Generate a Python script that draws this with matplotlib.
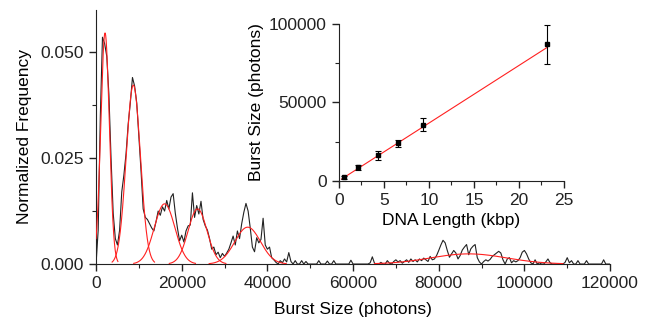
import numpy as np
import matplotlib
matplotlib.use("Agg")
import matplotlib.pyplot as plt
from matplotlib.ticker import MultipleLocator, FormatStrFormatter

plt.rcParams['font.family'] = ['Liberation Sans', 'DejaVu Sans']
plt.rcParams['font.size'] = 12.5

# ===================== 数据 =====================
# 直方图：每 500 photons 一个点，0 ~ 120000
bin_width = 500
hist_y = [
    0.0000, 0.0080, 0.0350, 0.0535, 0.0520, 0.0490, 0.0400, 0.0250, 0.0120, 0.0060,
    0.0045, 0.0080, 0.0170, 0.0210, 0.0260, 0.0330, 0.0380, 0.0440, 0.0420, 0.0380,
    0.0300, 0.0220, 0.0130, 0.0110, 0.0105, 0.0095, 0.0085, 0.0078, 0.0100, 0.0125,
    0.0115, 0.0135, 0.0125, 0.0150, 0.0130, 0.0158, 0.0166, 0.0120, 0.0085, 0.0055,
    0.0068, 0.0052, 0.0078, 0.0090, 0.0092, 0.0168, 0.0110, 0.0138, 0.0118, 0.0148,
    0.0105, 0.0090, 0.0080, 0.0060, 0.0035, 0.0040, 0.0022, 0.0028, 0.0015, 0.0025,
    0.0018, 0.0026, 0.0035, 0.0050, 0.0066, 0.0045, 0.0078, 0.0060, 0.0095, 0.0122,
    0.0143, 0.0125, 0.0085, 0.0040, 0.0029, 0.0062, 0.0050, 0.0058, 0.0108, 0.0045,
    0.0035, 0.0040, 0.0015, 0.0010, 0.0004, 0.0000, 0.0008, 0.0003, 0.0012, 0.0005,
    0.0027, 0.0006, 0.0000, 0.0008, 0.0000, 0.0000, 0.0008, 0.0000, 0.0006, 0.0000,
    0.0000, 0.0000, 0.0000, 0.0000, 0.0008, 0.0000, 0.0000, 0.0000, 0.0007, 0.0000,
    0.0000, 0.0008, 0.0000, 0.0000, 0.0000, 0.0000, 0.0000, 0.0000, 0.0000, 0.0009,
    0.0000, 0.0000, 0.0000, 0.0000, 0.0000, 0.0000, 0.0000, 0.0000, 0.0003, 0.0017,
    0.0002, 0.0000, 0.0000, 0.0004, 0.0000, 0.0000, 0.0008, 0.0002, 0.0000, 0.0006,
    0.0010, 0.0005, 0.0008, 0.0002, 0.0006, 0.0010, 0.0004, 0.0012, 0.0006, 0.0010,
    0.0005, 0.0012, 0.0008, 0.0014, 0.0010, 0.0006, 0.0018, 0.0010, 0.0012, 0.0020,
    0.0032, 0.0045, 0.0056, 0.0050, 0.0032, 0.0016, 0.0024, 0.0032, 0.0026, 0.0012,
    0.0020, 0.0033, 0.0040, 0.0046, 0.0022, 0.0036, 0.0042, 0.0046, 0.0015, 0.0005,
    0.0000, 0.0006, 0.0010, 0.0007, 0.0011, 0.0018, 0.0022, 0.0026, 0.0030, 0.0026,
    0.0010, 0.0000, 0.0012, 0.0015, 0.0003, 0.0008, 0.0005, 0.0008, 0.0015, 0.0028,
    0.0032, 0.0024, 0.0012, 0.0003, 0.0000, 0.0010, 0.0000, 0.0003, 0.0000, 0.0000,
    0.0005, 0.0012, 0.0003, 0.0000, 0.0000, 0.0000, 0.0000, 0.0000, 0.0000, 0.0004,
    0.0015, 0.0003, 0.0008, 0.0000, 0.0000, 0.0008, 0.0000, 0.0000, 0.0000, 0.0008,
    0.0000, 0.0000, 0.0000, 0.0000, 0.0000, 0.0000, 0.0000, 0.0010, 0.0000, 0.0000,
    0.0000,
]
hist_x = np.arange(len(hist_y)) * bin_width

# 高斯拟合分量：中心、幅值、宽度
peak_centers = [2100, 8700, 16000, 23700, 35400, 87000]
peak_amps = [0.0545, 0.0422, 0.0142, 0.0130, 0.0087, 0.0024]
peak_sigmas = [1000, 1650, 2400, 2200, 3000, 8800]
peak_span = [3.0, 3.0, 3.0, 3.0, 3.0, 2.5]  # 绘制范围 (sigma 的倍数)

# 插图：DNA 长度 vs 平均 burst size
dna_len = [0.6, 2.1, 4.4, 6.6, 9.4, 23.1]
burst_mean = [2300, 8700, 16400, 24000, 35700, 87000]
burst_err = [1000, 1700, 2800, 2300, 4200, 12500]
fit_slope = 3670
fit_intercept = 100

# ===================== 作图 =====================
fig = plt.figure(figsize=(6.49, 3.22), dpi=100)
ax = fig.add_axes([0.148, 0.180, 0.792, 0.790])

ax.plot(hist_x, hist_y, color='#222222', lw=0.8, zorder=2)
for c, a, s, n in zip(peak_centers, peak_amps, peak_sigmas, peak_span):
    xs = np.linspace(max(c - n * s, 0), c + n * s, 200)
    ax.plot(xs, a * np.exp(-0.5 * ((xs - c) / s) ** 2), color='#ff2020', lw=0.8, zorder=3)

ax.set_xlim(0, 120000)
ax.set_ylim(0, 0.06)
ax.xaxis.set_major_locator(MultipleLocator(20000))
ax.xaxis.set_minor_locator(MultipleLocator(10000))
ax.yaxis.set_major_locator(MultipleLocator(0.025))
ax.yaxis.set_minor_locator(MultipleLocator(0.0125))
ax.yaxis.set_major_formatter(FormatStrFormatter('%.3f'))
ax.set_xlabel('Burst Size (photons)', labelpad=8)
ax.set_ylabel('Normalized Frequency', labelpad=6)

# 插图
ins = fig.add_axes([0.522, 0.438, 0.347, 0.488])
xf = np.array([0.3, dna_len[-1]])
ins.plot(xf, fit_slope * xf + fit_intercept, color='#ff2020', lw=0.8)
ins.errorbar(dna_len, burst_mean, yerr=burst_err, fmt='s', color='black',
             ms=3, elinewidth=0.8, capsize=2, capthick=0.8)
ins.set_xlim(0, 25)
ins.set_ylim(0, 100000)
ins.xaxis.set_major_locator(MultipleLocator(5))
ins.xaxis.set_minor_locator(MultipleLocator(2.5))
ins.yaxis.set_major_locator(MultipleLocator(50000))
ins.yaxis.set_minor_locator(MultipleLocator(25000))
ins.set_xlabel('DNA Length (kbp)', labelpad=4)
ins.set_ylabel('Burst Size (photons)', labelpad=4)
ins.patch.set_alpha(0)

for a in (ax, ins):
    a.spines['top'].set_visible(False)
    a.spines['right'].set_visible(False)
    a.tick_params(which='major', direction='out', length=5, width=1, colors='#222222')
    a.tick_params(which='minor', direction='out', length=3, width=0.8, colors='#222222')
    for sp in a.spines.values():
        sp.set_color('#222222')

fig.savefig('out.png', dpi=100)
plt.close(fig)
